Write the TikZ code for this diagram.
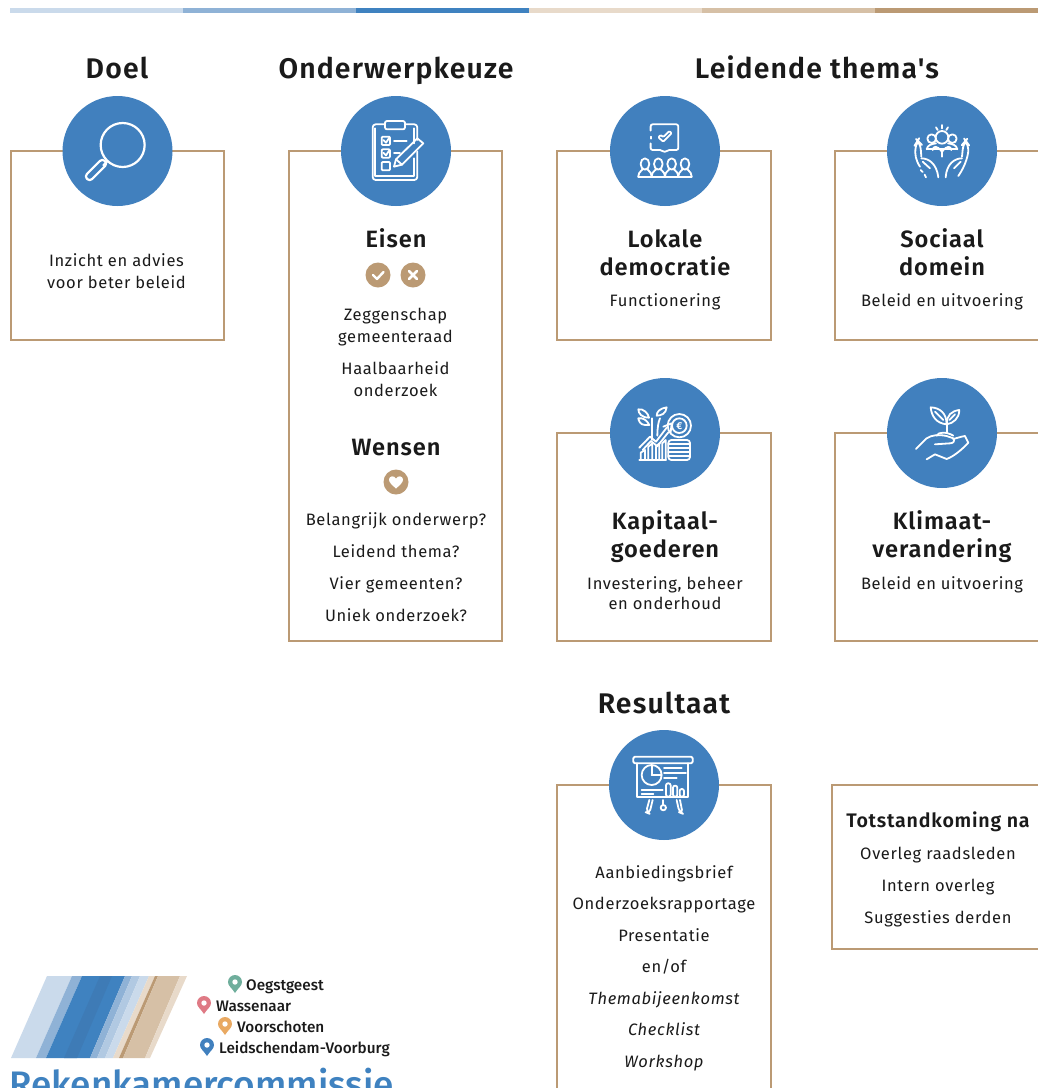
\documentclass[tikz,border=0pt]{standalone}
\usepackage{fontspec}
\setmainfont{Fira Sans}
\newfontfamily\bodyfam[LetterSpace=4]{Fira Sans}
\newfontfamily\headfam[LetterSpace=4]{Fira Sans SemiBold}
\newfontfamily\logofam{Fira Sans Medium}
\definecolor{tan}{HTML}{BB9A74}
\definecolor{tanb}{HTML}{D6C0A6}
\definecolor{tanc}{HTML}{E8DACA}
\definecolor{blu}{HTML}{4180BE}
\definecolor{bluc}{HTML}{3F82C0}
\definecolor{blub}{HTML}{8FB2D6}
\definecolor{blua}{HTML}{CADAEB}
\definecolor{ink}{HTML}{1A1A1A}
\tikzset{
 panel/.style={draw=tan,line width=1.9pt,fill=white},
 disc/.style={circle,fill=blu,draw=none,minimum size=110pt,inner sep=0pt},
 badge/.style={circle,fill=tan,draw=none,minimum size=25pt,inner sep=0pt},
 ic/.style={draw=white,line width=1.8pt,line join=round,line cap=round},
 title/.style={anchor=base,inner sep=0pt,text=ink,font=\headfam\fontsize{28.4}{34}\selectfont},
 sub/.style={anchor=base,inner sep=0pt,align=center,text=ink,font=\headfam\fontsize{23.6}{28}\selectfont},
 body/.style={anchor=base,inner sep=0pt,align=center,text=ink,font=\bodyfam\fontsize{16.5}{#1}\selectfont},
 town/.style={anchor=base west,inner sep=0pt,text=ink,font=\logofam\fontsize{15.3}{17}\selectfont},
}
\newcommand{\mappin}[3]{\fill[#3] (#1,#2+8) .. controls (#1-3,#2+3) and (#1-7,#2+1) .. (#1-7,#2-3) arc[start angle=180,end angle=360,radius=7] .. controls (#1+7,#2+1) and (#1+3,#2+3) .. (#1,#2+8) -- cycle;
 \fill[white] (#1,#2-3) circle[radius=2.7];}
\begin{document}
\begin{tikzpicture}[x=1pt,y=-1pt]
\useasboundingbox (0,0) rectangle (1038,1088);
\clip (0,0) rectangle (1038,1088);
% top strip
\fill[blua] (10,8) rectangle (183,13);
\fill[blub] (183,8) rectangle (356,13);
\fill[bluc] (356,8) rectangle (529,13);
\fill[tanc] (529,8) rectangle (702,13);
\fill[tanb] (702,8) rectangle (875,13);
\fill[tan] (875,8) rectangle (1038,13);
% panels
\draw[panel] (11,151) rectangle (224,340);
\draw[panel] (289,151) rectangle (502,641);
\draw[panel] (557,151) rectangle (771,340);
\draw[panel] (835,151) rectangle (1050,340);
\draw[panel] (557,433) rectangle (771,641);
\draw[panel] (835,433) rectangle (1050,641);
\draw[panel] (557,785) rectangle (771,1100);
\draw[panel] (832,785) rectangle (1050,949);
% discs
\node[disc] (dDoel) at (117.5,151) {};
\node[disc] (dKeuze) at (396,151) {};
\node[disc] (dLokaal) at (665,151) {};
\node[disc] (dSociaal) at (942,151) {};
\node[disc] (dKapitaal) at (665,433) {};
\node[disc] (dKlimaat) at (942,433) {};
\node[disc] (dResultaat) at (664,785) {};
% headings
\node[title] (hDoel) at (117,78) {Doel};
\node[title] (hKeuze) at (396,78) {Onderwerpkeuze};
\node[title] (hThema) at (817,78) {Leidende thema's};
\node[title] (hRes) at (664,713) {Resultaat};
% magnifier
\begin{scope}[shift={(50,90)},x=.3333pt,y=-.3333pt,ic]
\draw[line width=2.2pt] (218,165) circle[radius=66];
\draw[line width=2.2pt] (172,214) -- (160,226);
\draw[line width=2.2pt,rotate around={45:(138,240)},rounded corners=3.5pt] (100,229) rectangle (176,251);
\end{scope}
% clipboard
\begin{scope}[shift={(330,90)},x=.3333pt,y=-.3333pt,ic]
\draw[rounded corners=3pt] (165,103) -- (128,103) -- (128,270) -- (262,270) -- (262,185);
\draw[rounded corners=3pt] (225,103) -- (262,103) -- (262,150);
\draw[rounded corners=2pt] (165,93) rectangle (225,118);
\draw (136,115) -- (136,258) -- (252,258) -- (252,205);
\draw (252,115) -- (252,160);
\foreach \yy in {140,178,216} \draw[rounded corners=1pt] (155,\yy) rectangle +(25,25);
\draw (160,150) -- (168,158) -- (178,143);
\draw (160,188) -- (168,196) -- (178,181);
\draw (192,153) -- (230,153);
\draw (192,190) -- (210,190);
\draw (192,230) -- (198,208) -- (262,145) -- (280,160) -- (216,224) -- cycle;
\draw (198,208) -- (216,224);
\end{scope}
% audience
\begin{scope}[shift={(330,90)},x=.3333pt,y=-.3333pt,ic]
\draw[rounded corners=2pt] (962,122) -- (962,103) -- (1045,103) -- (1045,180) -- (1012,180) -- (1004,188) -- (996,180) -- (962,180) -- (962,160);
\draw (962,140) -- (962,146);
\draw[rounded corners=1pt] (985,142) -- (1000,155) -- (1025,130) -- (1018,123) -- (1000,141) -- (992,135) -- cycle;
\foreach \xx in {945,985,1025,1065} {
 \draw (\xx,222) ellipse[x radius=13,y radius=17];
 \draw[rounded corners=4pt] (\xx-20,260) -- (\xx-20,247) -- (\xx-6,238);
 \draw[rounded corners=4pt] (\xx+20,260) -- (\xx+20,247) -- (\xx+6,238);
}
\draw (925,260) -- (1085,260);
\end{scope}
% hands with people
\begin{scope}[shift={(880,90)},x=.3333pt,y=-.3333pt,ic]
\draw (186,142) circle[radius=19];
\draw (155,146) circle[radius=13];
\draw (217,146) circle[radius=13];
\draw (140,178) .. controls (142,165) and (155,162) .. (168,160);
\draw (232,178) .. controls (230,165) and (217,162) .. (204,160);
\draw (158,180) .. controls (160,168) and (170,165) .. (186,185) .. controls (202,165) and (212,168) .. (214,180);
\draw (140,178) -- (232,178);
\draw (186,185) -- (186,200);
\draw (168,112) -- (173,120);
\draw (186,105) -- (186,115);
\draw (204,112) -- (199,120);
\draw[rounded corners=6pt] (120,230) .. controls (106,210) and (105,190) .. (108,160) -- (113,152) -- (121,160) -- (124,200);
\draw (124,205) .. controls (145,205) and (170,220) .. (175,262);
\draw (128,215) -- (150,235);
\draw (122,240) -- (128,246);
\draw (134,254) -- (138,262);
\draw[rounded corners=6pt] (235,258) .. controls (258,225) and (266,190) .. (263,160) -- (257,152) -- (250,160) -- (246,200);
\draw (246,205) .. controls (225,205) and (200,220) .. (197,262);
\draw (242,215) -- (222,235);
\end{scope}
% growth chart and coins
\begin{scope}[shift={(600,375)},x=.3333pt,y=-.3333pt,ic]
\draw[rounded corners=3pt] (205,195) rectangle (270,255);
\foreach \yy in {207,219,231,243} \draw (205,\yy) -- (270,\yy);
\draw (238,152) circle[radius=35];
\draw (238,152) circle[radius=22];
\node[inner sep=0pt,text=white,font=\bfseries\fontsize{10}{10}\selectfont] (euro) at (238,153) {€};
\draw (122,255) -- (122,233) -- (135,225) -- (135,255);
\draw (145,255) -- (145,215) -- (157,205) -- (157,255);
\draw (168,255) -- (168,215) -- (178,205) -- (178,255);
\draw (187,255) -- (187,205) -- (197,195) -- (197,255);
\draw (118,255) -- (198,255);
\draw (118,218) -- (150,185) -- (168,200) -- (200,158);
\draw (128,225) -- (153,198) -- (172,214) -- (205,172);
\draw (190,155) -- (215,145) -- (212,172);
\draw (155,195) -- (155,130);
\draw (172,182) .. controls (172,160) and (175,140) .. (180,130);
\draw (135,150) .. controls (120,150) and (115,135) .. (115,130) .. controls (130,128) and (140,135) .. (148,150) -- cycle;
\draw (115,103) .. controls (130,100) and (145,115) .. (147,128) .. controls (125,128) and (115,115) .. (115,103) -- cycle;
\draw (200,97) .. controls (180,100) and (170,110) .. (170,122) .. controls (185,122) and (198,115) .. (200,97) -- cycle;
\end{scope}
% seedling on hand
\begin{scope}[shift={(600,375)},x=.3333pt,y=-.3333pt,ic]
\draw (1040,172) -- (1040,140);
\draw (1040,148) .. controls (1010,145) and (995,125) .. (992,97) .. controls (1020,98) and (1040,115) .. (1040,148) -- cycle;
\draw (1040,148) .. controls (1060,145) and (1078,130) .. (1078,105) .. controls (1055,108) and (1040,120) .. (1040,148) -- cycle;
\draw (1005,110) -- (1030,135);
\draw (1065,118) -- (1048,135);
\draw (948,222) -- (980,190) .. controls (995,180) and (1015,178) .. (1040,183) -- (1060,190) .. controls (1066,198) and (1060,205) .. (1050,205) -- (1005,208);
\draw (1060,192) -- (1085,185) -- (1095,183) -- (1105,203) .. controls (1085,225) and (1060,245) .. (1040,252) -- (1005,238) -- (980,253);
\draw (1010,182) .. controls (1015,170) and (1040,170) .. (1060,182);
\end{scope}
% presentation board
\begin{scope}[shift={(600,725)},x=.3333pt,y=-.3333pt,ic]
\draw[rounded corners=1.5pt] (100,95) rectangle (278,115);
\draw (112,115) -- (112,215) -- (265,215) -- (265,115);
\draw (155,150) circle[radius=30];
\draw (155,150) -- (155,122);
\draw (155,150) -- (183,150);
\foreach \yy/\xe in {130/245,145/258,160/230} \draw (192,\yy) -- (\xe,\yy);
\draw[rounded corners=2pt] (198,175) rectangle (212,215);
\draw[rounded corners=2pt] (219,182) rectangle (232,215);
\draw[rounded corners=2pt] (239,192) rectangle (252,215);
\draw (125,196) -- (188,196);
\draw (125,208) -- (160,208);
\draw[rounded corners=4pt] (148,225) -- (138,262) -- (148,266) -- (158,225);
\draw[rounded corners=4pt] (230,225) -- (238,262) -- (248,266) -- (240,225);
\draw (190,225) -- (190,240);
\draw (190,248) circle[radius=8];
\end{scope}
% panel texts
\node[body=22] (tDoel) at (116.5,288) {Inzicht en advies\\voor beter beleid};
\node[sub] (tEisen) at (396,247) {Eisen};
\node[badge] (bYes) at (378,275) {};
\node[badge] (bNo) at (413,275) {};
\draw[white,line width=2.4pt,line cap=round,line join=round] (373,275) -- (377,279) -- (383.5,272);
\draw[white,line width=2.6pt,line cap=round] (409,271) -- (417,279) (417,271) -- (409,279);
\node[body=22] (tEis1) at (395.5,342) {Zeggenschap\\gemeenteraad};
\node[body=22] (tEis2) at (395.5,396) {Haalbaarheid\\onderzoek};
\node[sub] (tWensen) at (396,455) {Wensen};
\node[badge] (bHeart) at (396,482) {};
\fill[white] (396,488.5) .. controls (392,485) and (389,482.5) .. (389,479.5) .. controls (389,476) and (394,475) .. (396,478.5) .. controls (398,475) and (403,476) .. (403,479.5) .. controls (403,482.5) and (400,485) .. (396,488.5) -- cycle;
\node[body=32] (tWens) at (396,621) {Belangrijk onderwerp?\\Leidend thema?\\Vier gemeenten?\\Uniek onderzoek?};
\node[sub] (tLokaal) at (665,275) {Lokale\\democratie};
\node[body=20] (tLokaal2) at (665,306) {Functionering};
\node[sub] (tSociaal) at (942,275) {Sociaal\\domein};
\node[body=20] (tSociaal2) at (942,306) {Beleid en uitvoering};
\node[sub] (tKapitaal) at (665,557) {Kapitaal-\\goederen};
\node[body=20] (tKapitaal2) at (665,609) {Investering, beheer\\en onderhoud};
\node[sub] (tKlimaat) at (942,557) {Klimaat-\\verandering};
\node[body=20] (tKlimaat2) at (942,589) {Beleid en uitvoering};
\node[body=31.5] (tRes) at (664,1067) {Aanbiedingsbrief\\Onderzoeksrapportage\\Presentatie\\en/of\\{\itshape Themabijeenkomst}\\{\itshape Checklist}\\{\itshape Workshop}};
\node[anchor=base,inner sep=0pt,text=ink,font=\headfam\fontsize{19.6}{24}\selectfont] (tTot) at (938,827) {Totstandkoming na};
\node[body=32] (tTot2) at (938,923) {Overleg raadsleden\\Intern overleg\\Suggesties derden};
% logo
\fill[blua] (11,1058) -- (47,976) -- (72,976) -- (36,1058) -- cycle;
\fill[blub] (36,1058) -- (72,976) -- (82,976) -- (46,1058) -- cycle;
\fill[bluc] (46,1058) -- (82,976) -- (125,976) -- (90,1058) -- cycle;
\fill[blu!96!black] (64,1058) -- (100,976) -- (112,976) -- (77,1058) -- cycle;
\fill[blub] (90,1058) -- (125,976) -- (132,976) -- (97,1058) -- cycle;
\fill[blub!70!white] (97,1058) -- (132,976) -- (140,976) -- (105,1058) -- cycle;
\fill[blua] (105,1058) -- (140,976) -- (149,976) -- (113,1058) -- cycle;
\fill[tanc] (113,1058) -- (149,976) -- (155,976) -- (119,1058) -- cycle;
\fill[tan] (119,1058) -- (155,976) -- (158,976) -- (123,1058) -- cycle;
\fill[tanb] (123,1058) -- (158,976) -- (180,976) -- (145,1058) -- cycle;
\fill[tanc] (145,1058) -- (180,976) -- (187,976) -- (150,1058) -- cycle;
\definecolor{pinA}{HTML}{6FAE9C}
\definecolor{pinB}{HTML}{DF7A85}
\definecolor{pinC}{HTML}{E9A962}
\mappin{235}{985}{pinA}
\mappin{204}{1006}{pinB}
\mappin{225}{1027}{pinC}
\mappin{207}{1048}{blu}
\node[town] (lOeg) at (246,990) {Oegstgeest};
\node[town] (lWas) at (216,1011) {Wassenaar};
\node[town] (lVoo) at (237,1032) {Voorschoten};
\node[town] (lLei) at (219,1053) {Leidschendam-Voorburg};
\node[anchor=base west,inner sep=0pt,text=bluc,font=\logofam\fontsize{36.9}{40}\selectfont] (lRek) at (9,1097) {Rekenkamercommissie};
\end{tikzpicture}
\end{document}
